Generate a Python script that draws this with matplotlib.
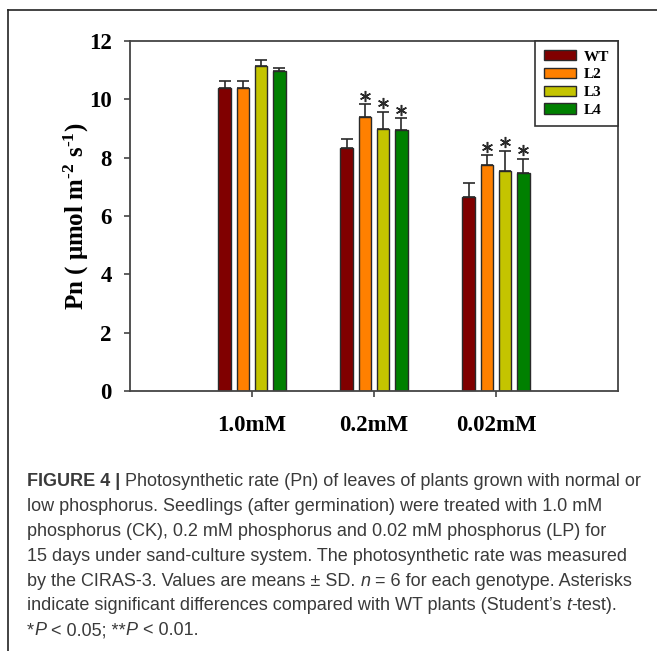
import numpy as np
import matplotlib
matplotlib.use("Agg")
import matplotlib.pyplot as plt
from matplotlib.lines import Line2D
from matplotlib.patches import Patch

# data
categories = ["1.0mM", "0.2mM", "0.02mM"]
genotypes = ["WT", "L2", "L3", "L4"]
pn_wt = [10.38, 8.34, 6.66]
pn_l2 = [10.40, 9.40, 7.76]
pn_l3 = [11.13, 9.00, 7.55]
pn_l4 = [10.97, 8.95, 7.46]
sd_wt = [0.25, 0.31, 0.48]
sd_l2 = [0.22, 0.43, 0.32]
sd_l3 = [0.22, 0.57, 0.68]
sd_l4 = [0.10, 0.40, 0.49]
star_wt = [False, False, False]
star_l2 = [False, True, True]
star_l3 = [False, True, True]
star_l4 = [False, True, True]

colors = ["#800000", "#ff8000", "#c4c400", "#008000"]

plt.rcParams["font.family"] = "Liberation Serif"
plt.rcParams["font.weight"] = "bold"
plt.rcParams["mathtext.fontset"] = "custom"
plt.rcParams["mathtext.rm"] = "Liberation Serif:bold"
plt.rcParams["mathtext.it"] = "Liberation Serif:bold"
plt.rcParams["mathtext.bf"] = "Liberation Serif:bold"

fig = plt.figure(figsize=(6.57, 6.51), dpi=100)
ax = fig.add_axes([130/657, 1-391/651, 488/657, 350/651])

x = np.arange(1, len(categories)+1)
width = 0.1
offsets = [-0.225, -0.075, 0.075, 0.225]
values = [pn_wt, pn_l2, pn_l3, pn_l4]
sds = [sd_wt, sd_l2, sd_l3, sd_l4]
stars = [star_wt, star_l2, star_l3, star_l4]

for i in range(len(genotypes)):
    v = np.array(values[i])
    s = np.array(sds[i])
    ax.bar(x + offsets[i], v, width, color=colors[i], edgecolor="#2a2a2a",
           linewidth=1.0, yerr=[np.zeros_like(s), s],
           error_kw=dict(ecolor="#2a2a2a", elinewidth=1.2, capsize=4, capthick=1.2),
           zorder=2)
    m = np.array(stars[i])
    if m.any():
        ax.plot((x + offsets[i])[m], (v + s)[m] + 0.3, ls="none", marker=(6, 2, 0),
                ms=8, mew=1.1, color="#2a2a2a", zorder=3)

ax.set_xlim(0, 4)
ax.set_ylim(0, 12)
ax.set_xticks(x)
ax.set_xticklabels(categories)
ax.set_yticks(np.arange(0, 13, 2))
ax.tick_params(axis="y", direction="out", length=4, width=1.2, pad=9,
               labelsize=16.5, color="#444")
ax.tick_params(axis="x", direction="out", length=4, width=1.2, pad=13,
               labelsize=16.5, color="#444")
for sp in ax.spines.values():
    sp.set_color("#444")
    sp.set_linewidth(1.3)

ax.set_ylabel("Pn ( \u03bcmol m$^{\u20102}$ s$^{\u20101}$)", fontsize=18, fontweight="bold")
ax.yaxis.set_label_coords(-0.08, 0.5)

handles = [Patch(facecolor=colors[i], edgecolor="#2a2a2a", linewidth=1.0)
           for i in range(len(genotypes))]
leg = ax.legend(handles, genotypes, loc="upper right", bbox_to_anchor=(1, 1),
                borderaxespad=0, fancybox=False, framealpha=1,
                prop=dict(family="Liberation Serif", weight="bold", size=11),
                handlelength=2.1, handleheight=0.65, handletextpad=0.5,
                labelspacing=0.28, borderpad=0.6)
leg.get_frame().set_edgecolor("#333")
leg.get_frame().set_linewidth(1.2)

# border of the figure panel
fig.add_artist(Line2D([8/657, 1], [1-10/651, 1-10/651], transform=fig.transFigure,
                      color="#222", lw=1.2))
fig.add_artist(Line2D([8/657, 8/657], [0, 1-10/651], transform=fig.transFigure,
                      color="#222", lw=1.2))

# caption, one list of (text, style) pieces per line
caption = [
    [("FIGURE 4 |", "b"), (" Photosynthetic rate (Pn) of leaves of plants grown with normal or", "r")],
    [("low phosphorus. Seedlings (after germination) were treated with 1.0 mM", "r")],
    [("phosphorus (CK), 0.2 mM phosphorus and 0.02 mM phosphorus (LP) for", "r")],
    [("15 days under sand-culture system. The photosynthetic rate was measured", "r")],
    [("by the CIRAS-3. Values are means \u00b1 SD. ", "r"), ("n", "i"),
     (" = 6 for each genotype. Asterisks", "r")],
    [("indicate significant differences compared with WT plants (Student\u2019s ", "r"),
     ("t", "i"), ("-test).", "r")],
    [("*", "r"), ("P", "i"), (" < 0.05; **", "r"), ("P", "i"), (" < 0.01.", "r")],
]
cap_font = dict(family="Liberation Sans", size=13.0, color="#3a3a3a")
y0 = 482
for k, line in enumerate(caption):
    yc = 1 - (y0 + k*24.8)/651
    prev = None
    for txt, st in line:
        kw = dict(cap_font)
        kw["weight"] = "bold" if st == "b" else "normal"
        kw["style"] = "italic" if st == "i" else "normal"
        if prev is None:
            prev = fig.text(27/657, yc, txt, ha="left", va="center", **kw)
        else:
            prev = ax.annotate(txt, xy=(1, 0), xycoords=prev, ha="left",
                               va="bottom", annotation_clip=False, **kw)

fig.savefig("out.png", dpi=100)
